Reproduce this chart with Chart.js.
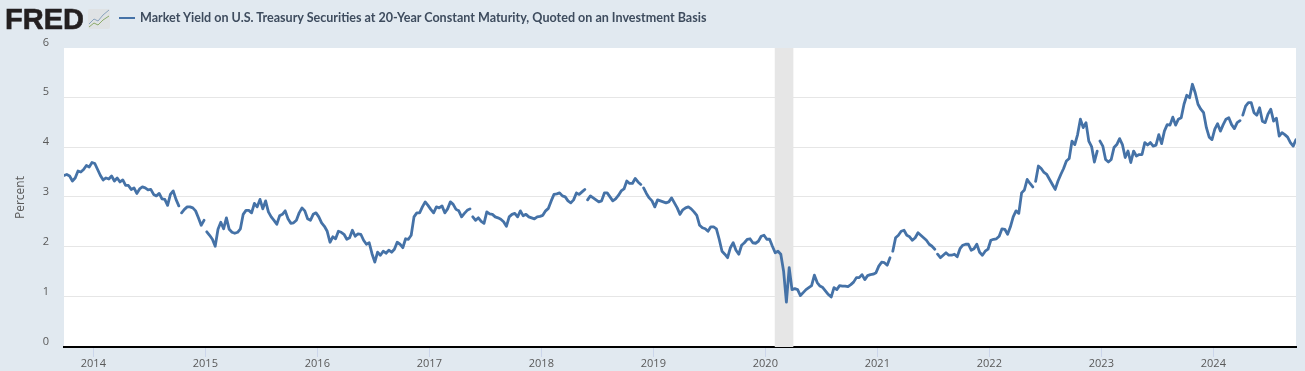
<!DOCTYPE html>
<html>
    <head>
        <title>FRED - Market Yield on U.S. Treasury Securities at 20-Year Constant Maturity</title>
        <script src="https://cdn.jsdelivr.net/npm/chart.js@4/dist/chart.umd.min.js"></script>
        <style>
            html, body { margin: 0; padding: 0; background: #e1e9f0; overflow: hidden; }
            #wrap { position: relative; width: 1305px; height: 371px; }
            #chart { position: absolute; left: 0; top: 0; }
            #logo { position: absolute; left: 5px; top: 2px; font: 900 29px/34px "Liberation Sans", sans-serif; -webkit-text-stroke: 0.6px #231f20; color: #231f20; }
            #icon { position: absolute; left: 88px; top: 9px; }
            #key { position: absolute; left: 119px; top: 17px; width: 16px; height: 2px; background: #4572a7; }
            #name { position: absolute; left: 140px; top: 10px; font: 700 12.55px/16px Lato, sans-serif; color: #3e4c5e; white-space: nowrap; }
        </style>
    </head>
    <body>
        <div id="wrap">
            <canvas id="chart" width="1305" height="371"></canvas>
            <!--Logo and series name-->
            <div id="logo">FRED</div>
            <svg id="icon" width="22" height="20">
                <rect width="22" height="20" rx="2" fill="#dfe2e4"></rect>
                <polyline points="1,15 6,10 10,12 15,6 21,1" fill="none" stroke="#8aa3bd" stroke-width="1"></polyline>
                <polyline points="1,18 6,14 10,16 15,11 21,7" fill="none" stroke="#8cab6a" stroke-width="1"></polyline>
            </svg>
            <div id="key"></div>
            <div id="name">Market Yield on U.S. Treasury Securities at 20-Year Constant Maturity, Quoted on an Investment Basis</div>
        </div>

        <script>
            const seriesName = "Market Yield on U.S. Treasury Securities at 20-Year Constant Maturity, Quoted on an Investment Basis";
            const yearTicks = [2014, 2015, 2016, 2017, 2018, 2019, 2020, 2021, 2022, 2023, 2024];
            const percentTicks = [0, 1, 2, 3, 4, 5, 6];
            const axisStart = 2013.738;
            const axisEnd = 2024.738;
            const sampleStep = 0.025; //one reading every 1/40 of a year
            const recessionStart = 2020.084;
            const recessionEnd = 2020.25;

            //Readings
            const yieldsA = [
                3.43,3.45,3.42,3.32,3.38,3.52,3.50,3.55,3.63,3.60,3.69,
                3.67,3.55,3.43,3.34,3.38,3.36,3.42,3.32,3.38,3.30,3.34,
                3.23,3.23,3.15,3.18,3.07,3.16,3.20,3.18,3.14,3.15,3.05,
                3.02,3.07,2.96,2.95,2.83,3.05,3.12,2.95,2.82,2.68,2.75,
                2.80,2.80,2.78,2.72,2.58,2.43,2.53,2.30,2.23,2.15,2.01
            ];
            const yieldsB = [
                2.35,2.49,2.36,2.58,2.35,2.29,2.27,2.29,2.36,2.65,2.73,
                2.73,2.68,2.87,2.80,2.95,2.76,2.92,2.70,2.60,2.53,2.45,
                2.62,2.65,2.72,2.56,2.47,2.48,2.53,2.68,2.78,2.72,2.56,
                2.53,2.65,2.68,2.60,2.48,2.41,2.31,2.09,2.20,2.16,2.31,
                2.29,2.25,2.15,2.18,2.33,2.21,2.26,2.25,2.13,2.05,2.08
            ];
            const yieldsC = [
                1.86,1.69,1.89,1.83,1.91,1.87,1.93,1.89,1.95,2.09,2.05,
                1.98,2.16,2.15,2.23,2.60,2.68,2.68,2.80,2.90,2.83,2.75,
                2.68,2.80,2.78,2.82,2.68,2.76,2.90,2.85,2.75,2.72,2.60,
                2.67,2.73,2.76,2.60,2.53,2.58,2.51,2.47,2.70,2.66,2.65,
                2.60,2.58,2.55,2.50,2.41,2.60,2.65,2.67,2.60,2.72,2.62
            ];
            const yieldsD = [
                2.65,2.60,2.58,2.56,2.60,2.61,2.63,2.72,2.77,2.92,3.05,
                3.06,3.08,3.02,3.00,2.92,2.88,2.94,3.08,3.05,3.10,3.15,
                2.94,3.02,2.98,2.94,2.90,2.92,3.08,3.08,3.00,2.92,2.96,
                3.03,3.12,3.16,3.32,3.27,3.27,3.37,3.30,3.25,3.18,3.07,
                2.98,2.92,2.80,2.94,2.92,2.90,2.88,2.90,2.98,2.88,2.78
            ];
            const yieldsE = [
                2.65,2.74,2.78,2.80,2.76,2.70,2.63,2.43,2.38,2.36,2.31,
                2.40,2.40,2.36,2.15,1.91,1.85,1.78,1.98,2.08,1.93,1.85,
                2.03,2.08,2.15,2.16,2.08,2.07,2.11,2.21,2.23,2.15,2.15,
                2.01,1.88,1.91,1.85,1.51,0.89,1.58,1.14,1.16,1.14,1.02,
                1.08,1.14,1.18,1.22,1.43,1.28,1.21,1.18,1.11,1.04,0.99
            ];
            const yieldsF = [
                1.18,1.14,1.22,1.21,1.21,1.20,1.24,1.29,1.38,1.38,1.44,
                1.34,1.42,1.44,1.45,1.48,1.61,1.69,1.68,1.63,1.78,1.91,
                2.18,2.23,2.31,2.33,2.23,2.20,2.13,2.18,2.28,2.23,2.18,
                2.13,2.05,2.01,1.95,1.85,1.78,1.83,1.88,1.83,1.83,1.85,
                1.80,1.96,2.03,2.05,2.05,1.93,1.96,2.05,1.89,1.83,1.91
            ];
            const yieldsG = [
                1.95,2.13,2.15,2.16,2.21,2.36,2.35,2.25,2.40,2.60,2.72,
                2.67,3.08,3.14,3.35,3.27,3.20,3.31,3.62,3.57,3.49,3.45,
                3.35,3.25,3.15,3.32,3.45,3.57,3.72,3.77,4.12,4.05,4.25,
                4.56,4.39,4.49,4.12,4.01,3.70,3.92,4.12,4.02,3.75,3.70,
                3.75,3.99,4.05,4.17,4.05,3.79,3.92,3.69,3.92,3.82,3.85
            ];
            const yieldsH = [
                3.85,4.09,4.04,4.09,4.02,4.04,4.25,4.07,4.32,4.45,4.44,
                4.60,4.44,4.56,4.59,4.86,5.04,4.99,5.26,5.09,4.86,4.76,
                4.69,4.39,4.20,4.15,4.36,4.47,4.32,4.45,4.56,4.59,4.45,
                4.37,4.49,4.53,4.64,4.82,4.89,4.89,4.69,4.64,4.79,4.52,
                4.49,4.66,4.76,4.52,4.58,4.22,4.29,4.25,4.20,4.09,4.02,4.15
            ];
            //Readings after which the line is broken (missing days)
            const lineBreaks = [41, 50, 145, 186, 206, 295, 311, 346, 369, 420];

            const yields = [].concat(yieldsA, yieldsB, yieldsC, yieldsD, yieldsE, yieldsF, yieldsG, yieldsH);

            //Build the points, a null halfway between two readings breaks the line there
            const points = [];
            for (var i = 0; i < yields.length; i++) {
                points.push({ x: axisStart + i * sampleStep, y: yields[i] });
                if (lineBreaks.indexOf(i) != -1) {
                    points.push({ x: axisStart + (i + 0.5) * sampleStep, y: null });
                }
            }

            //White plot area and the grey recession band
            const plotBackground = {
                id: "plotBackground",
                beforeDraw: function (chart) {
                    const area = chart.chartArea;
                    chart.ctx.fillStyle = "#ffffff";
                    chart.ctx.fillRect(area.left, area.top, area.width, area.height);
                },
                beforeDatasetsDraw: function (chart) {
                    const area = chart.chartArea;
                    const left = chart.scales.x.getPixelForValue(recessionStart);
                    const right = chart.scales.x.getPixelForValue(recessionEnd);
                    chart.ctx.fillStyle = "#e6e6e6";
                    chart.ctx.fillRect(left, area.top, right - left, area.height);
                }
            };

            const axisFont = { family: "'Open Sans', sans-serif", size: 11 };

            new Chart(document.getElementById("chart"), {
                type: "line",
                data: {
                    datasets: [{
                        label: seriesName,
                        data: points,
                        borderColor: "#4572a7",
                        borderWidth: 2.8,
                        borderCapStyle: "round",
                        borderJoinStyle: "round",
                        pointRadius: 0,
                        tension: 0,
                        spanGaps: false
                    }]
                },
                plugins: [plotBackground],
                options: {
                    responsive: false,
                    animation: false,
                    layout: { padding: { left: 0, right: 9, top: 48, bottom: 0 } },
                    plugins: { legend: { display: false }, title: { display: false }, tooltip: { enabled: false } },
                    scales: {
                        x: {
                            type: "linear",
                            min: axisStart,
                            max: axisEnd,
                            z: 1,
                            afterFit: function (scale) { scale.height = 24; },
                            afterBuildTicks: function (scale) {
                                scale.ticks = yearTicks.map(function (year) { return { value: year }; });
                            },
                            border: { color: "#000000", width: 2 },
                            grid: { drawOnChartArea: false, color: "#ccd6eb", tickLength: 10, tickWidth: 1 },
                            ticks: {
                                padding: 0,
                                autoSkip: false,
                                maxRotation: 0,
                                font: axisFont,
                                color: "#595959",
                                callback: function (value) { return String(value); }
                            }
                        },
                        y: {
                            //small offset so the grid rows land where the reference has them
                            min: -0.012,
                            max: 5.988,
                            afterFit: function (scale) { scale.width = 64; },
                            afterBuildTicks: function (scale) {
                                scale.ticks = percentTicks.map(function (p) { return { value: p }; });
                            },
                            border: { display: false },
                            grid: {
                                drawTicks: false,
                                color: function (ctx) {
                                    return (ctx.tick.value == 0 || ctx.tick.value == 6) ? "rgba(0,0,0,0)" : "#e6e6e6";
                                }
                            },
                            ticks: {
                                padding: 15,
                                labelOffset: -5,
                                font: axisFont,
                                color: "#595959",
                                callback: function (value) { return String(value); }
                            },
                            title: {
                                display: true,
                                text: "Percent",
                                font: { family: "'Open Sans', sans-serif", size: 12 },
                                color: "#595959",
                                padding: { top: 13, bottom: 0 }
                            }
                        }
                    }
                }
            });
        </script>
    </body>
</html>
